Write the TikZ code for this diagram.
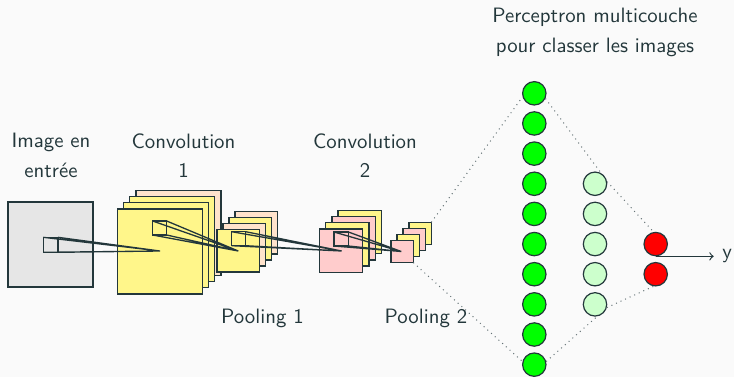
\documentclass[tikz,border=0pt]{standalone}
\definecolor{fg}{HTML}{23373B}
\definecolor{bg}{HTML}{FAFAFA}
\definecolor{cyel}{HTML}{FFF68A}
\definecolor{cpea}{HTML}{FFE3CC}
\definecolor{cpink}{HTML}{FFCCCC}
\definecolor{cin}{HTML}{E6E6E6}
\definecolor{cgreen}{HTML}{00FF00}
\definecolor{clight}{HTML}{CCFFCC}
\definecolor{cred}{HTML}{FF0000}
\begin{document}
\begin{tikzpicture}[x=0.5pt,y=-0.5pt,
  font=\sffamily\fontsize{10.4}{14.7}\selectfont, text=fg,
  sheet/.style={draw=fg, line width=0.65pt},
  funnel/.style={draw=fg, line width=0.65pt},
  lbl/.style={align=center, inner sep=0pt},
  neuron/.style={circle, draw=fg, line width=0.6pt, minimum size=11.7pt, inner sep=0pt},
  link/.style={draw=fg!70, dotted, line width=0.5pt}]
\fill[bg] (0,0) rectangle (734,377);
\useasboundingbox (0,0) rectangle (734,377);
% input
\filldraw[sheet, fill=cin] (8,202) rectangle (93,287);
% conv1
\filldraw[sheet, fill=cpea] (135.9,190.4) rectangle ++(85,85);
\filldraw[sheet, fill=cyel] (129.7,196.6) rectangle ++(85,85);
\filldraw[sheet, fill=cyel] (123.5,202.8) rectangle ++(85,85);
\filldraw[sheet, fill=cyel] (117.3,209) rectangle ++(85,85);
% pool1
\filldraw[sheet, fill=cpea] (235,211.5) rectangle ++(42.5,42.5);
\filldraw[sheet, fill=cyel] (229,217.5) rectangle ++(42.5,42.5);
\filldraw[sheet, fill=cpea] (223,223.5) rectangle ++(42.5,42.5);
\filldraw[sheet, fill=cyel] (217,229.5) rectangle ++(42.5,42.5);
% conv2
\filldraw[sheet, fill=cyel] (338.1,210.4) rectangle ++(43.3,43.3);
\filldraw[sheet, fill=cpink] (331.9,216.6) rectangle ++(43.3,43.3);
\filldraw[sheet, fill=cyel] (325.7,222.8) rectangle ++(43.3,43.3);
\filldraw[sheet, fill=cpink] (319.5,229) rectangle ++(43.3,43.3);
% pool2
\filldraw[sheet, fill=cyel] (409,222.3) rectangle ++(22.3,22.3);
\filldraw[sheet, fill=cpink] (403,228.3) rectangle ++(22.3,22.3);
\filldraw[sheet, fill=cyel] (397,234.3) rectangle ++(22.3,22.3);
\filldraw[sheet, fill=cpink] (391,240.3) rectangle ++(22.3,22.3);
\coordinate (p2ne) at (431.3,222.3);
\coordinate (p2se) at (413.3,262.6);
% funnels
\coordinate (a1) at (160,251);
\coordinate (a2) at (238.3,251);
\coordinate (a3) at (341.7,251);
\coordinate (a4) at (401.3,251.5);
\draw[funnel] (43.3,237.3) rectangle (58,252.3);
\draw[funnel] (43.3,237.3) -- (a1) (58,237.3) -- (a1) (43.3,252.3) -- (a1) (58,252.3) -- (a1);
\draw[funnel] (152.7,221) rectangle (166.7,235);
\draw[funnel] (152.7,221) -- (a2) (166.7,221) -- (a2) (152.7,235) -- (a2) (166.7,235) -- (a2);
\draw[funnel] (231.7,231.7) rectangle (245.7,245.7);
\draw[funnel] (231.7,231.7) -- (a3) (245.7,231.7) -- (a3) (231.7,245.7) -- (a3) (245.7,245.7) -- (a3);
\draw[funnel] (334,232) rectangle (348.5,246);
\draw[funnel] (334,232) -- (a4) (348.5,232) -- (a4) (334,246) -- (a4) (348.5,246) -- (a4);
% neurons
\foreach \i in {1,...,10} {
  \node[neuron, fill=cgreen] (g\i) at (534.3,{93.3+30.15*(\i-1)}) {};
}
\foreach \i in {1,...,5} {
  \node[neuron, fill=clight] (l\i) at (595,{183.75+30.15*(\i-1)}) {};
}
\node[neuron, fill=cred] (r1) at (655.7,244.05) {};
\node[neuron, fill=cred] (r2) at (655.7,274.2) {};
% dotted links
\draw[link] (p2ne) -- (g1.197);
\draw[link] (p2se) -- (g10.165);
\draw[link] (g1.335) -- (l1.60);
\draw[link] (g10.15) -- (l5.-80);
\draw[link] (l1.10) -- (r1.100);
\draw[link] (l5.-15) -- (r2.-100);
% output
\node[anchor=west, inner sep=0pt] (y) at (722,256) {y};
\draw[->, fg, line width=0.6pt] (r1.south) -- ++(58,0) coordinate (yend);
% labels
\node[lbl] (tin) at (51,155.5) {Image en\\entrée};
\node[lbl] (tc1) at (183.5,155.5) {Convolution\\1};
\node[lbl] (tc2) at (365,155.5) {Convolution\\2};
\node[lbl] (tp1) at (262.5,318) {Pooling 1};
\node[lbl] (tp2) at (426,318) {Pooling 2};
\node[lbl] (tmlp) at (595,32.3) {Perceptron multicouche\\pour classer les images};
\end{tikzpicture}
\end{document}
